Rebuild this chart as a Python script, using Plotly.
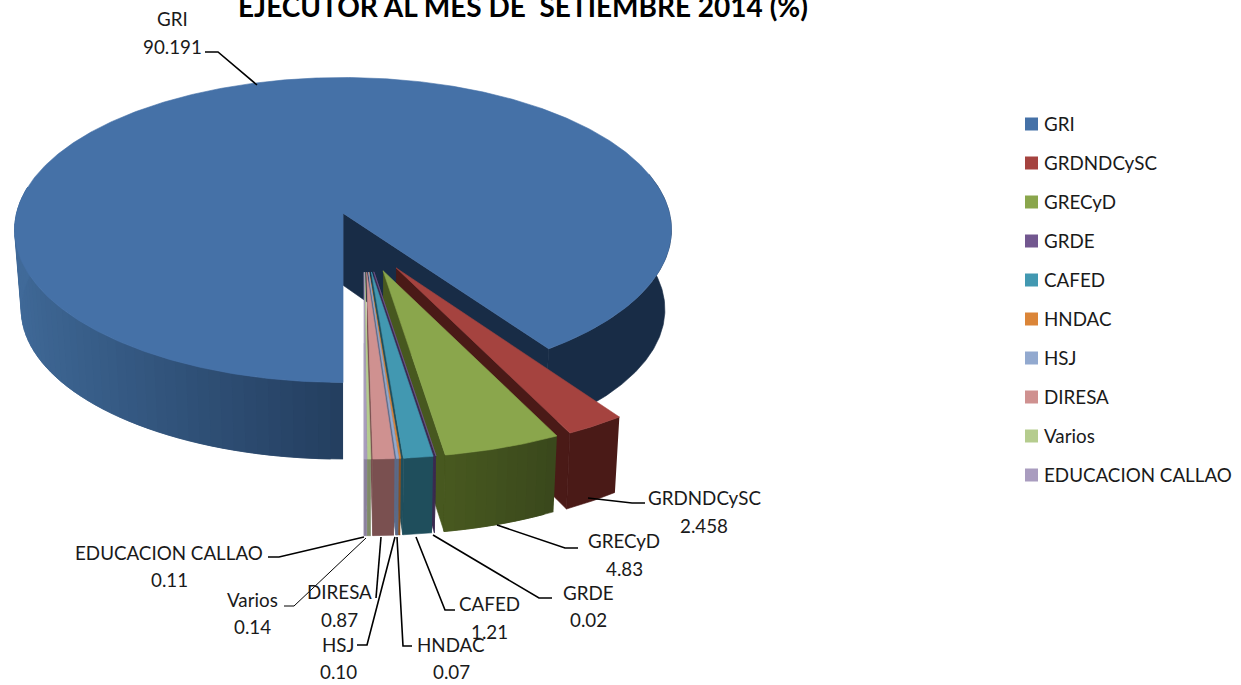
import math
import plotly.graph_objects as go

names = ["GRI", "GRDNDCySC", "GRECyD", "GRDE", "CAFED", "HNDAC", "HSJ", "DIRESA", "Varios", "EDUCACION CALLAO"]
values = [90.191, 2.458, 4.83, 0.02, 1.21, 0.07, 0.10, 0.87, 0.14, 0.11]
value_labels = ["90.191", "2.458", "4.83", "0.02", "1.21", "0.07", "0.10", "0.87", "0.14", "0.11"]
title_text = "EJECUTOR AL MES DE  SETIEMBRE 2014 (%)"

top_colors = ["#4571A7", "#A5433F", "#8AA64C", "#72578F", "#4298B1", "#DB8538", "#92A9CF", "#CF9190", "#B5CC8E", "#A99CBF"]
wall_colors = ["#182C46", "#4A1A17", "#3A481C", "#3A2A50", "#1F4E5C", "#8A5020", "#5A6A88", "#7A5050", "#7F8A68", "#8A809C"]
wall_far_colors = ["#182C46", "#4A1A17", "#47581F", "#3A2A50", "#1F4E5C", "#8A5020", "#5A6A88", "#7A5050", "#7F8A68", "#8A809C"]

RY = 152.5
FONT = "Lato"
TEXT = "#1a1a1a"
LABEL_SIZE = 18.8

total = sum(values)
fig = go.Figure()


def lerp(c1, c2, t):
    a = [int(c1[i:i + 2], 16) for i in (1, 3, 5)]
    b = [int(c2[i:i + 2], 16) for i in (1, 3, 5)]
    return "rgb(%d,%d,%d)" % tuple(round(p + (q - p) * t) for p, q in zip(a, b))


def poly(xs, ys, color, name):
    fig.add_trace(go.Scatter(x=xs, y=ys, mode="lines", fill="toself", fillcolor=color,
                             line=dict(color=color, width=0.6), showlegend=False,
                             hoverinfo="text", text=name))


def slice_geometry(start, end, is_main):
    mid = math.radians((start + end) / 2)
    if is_main:
        cx, pull_x, rx, base, k, dy, rim_dy, rim_y = 360.0, 0.17, 326.5, 1.0, 0.11, 72.0, 80.0, 0.98
    else:
        cx, pull_x, rx, base, k, dy, rim_dy, rim_y = 364.0, 0.19, 322.5, 1.075, 0.14, 71.0, 71.0, 1.03
    ax = cx + pull_x * 329.0 * math.sin(mid)
    ay = 242.0 - 0.198 * RY * math.cos(mid)

    def top(theta):
        t = math.radians(theta)
        s = base * (1 - k * math.cos(t))
        return ax + rx * s * math.sin(t), ay - RY * s * math.cos(t)

    def bottom(theta):
        x, y = top(theta)
        return ax + 0.98 * (x - ax), ay + rim_dy + rim_y * (y - ay)

    return ax, ay, dy, top, bottom


def angles(a, b, step=1.0):
    n = max(2, int(abs(b - a) / step) + 1)
    return [a + (b - a) * i / (n - 1) for i in range(n)]


def strip(bottom, top, a, b, color, name):
    tt = angles(a, b, 0.5)
    poly([top(t)[0] for t in tt] + [bottom(t)[0] for t in reversed(tt)],
         [top(t)[1] for t in tt] + [bottom(t)[1] for t in reversed(tt)], color, name)


def draw_top(ax, ay, top, a, b, color, name):
    tt = angles(a, b, 0.5)
    poly([ax] + [top(t)[0] for t in tt] + [ax], [ay] + [top(t)[1] for t in tt] + [ay], color, name)


# Cumulative angles from the values, clockwise from the bottom of the pie
spans = [v / total * 360 for v in values]
main_start = 180.0
main_end = main_start + spans[0]          # wraps past 360
cursor = main_end - 360

# Main slice first: it sits behind all the others
ax, ay, dy, top, bottom = slice_geometry(main_start, main_end, True)
strip(bottom, top, cursor - 70, cursor, wall_colors[0], names[0])
xe, ye = top(cursor)
xb, yb = bottom(cursor)
poly([ax, xe, xb, ax], [ay, ye, yb, ay + dy], wall_colors[0], names[0])
edges = angles(180, 280, 2.0)
for j in range(len(edges) - 1):
    shade = abs(math.sin(math.radians(edges[j])))
    strip(bottom, top, edges[j], edges[min(j + 2, len(edges) - 1)], lerp("#243F60", "#406A99", shade), names[0])
draw_top(ax, ay, top, main_start, main_end, top_colors[0], names[0])

# Remaining slices, back to front
for i in range(1, len(values)):
    a = cursor
    b = cursor + spans[i]
    cursor = b
    ax, ay, dy, top, bottom = slice_geometry(a, b, False)
    xe, ye = top(b)
    xb, yb = bottom(b)
    poly([ax, xe, xb, ax], [ay, ye, yb, ay + dy], wall_far_colors[i], names[i])
    if wall_colors[i] == wall_far_colors[i]:
        strip(bottom, top, a, b, wall_colors[i], names[i])
    else:
        edges = angles(a, b, 1.5)
        for j in range(len(edges) - 1):
            strip(bottom, top, edges[j], edges[min(j + 2, len(edges) - 1)],
                  lerp(wall_colors[i], wall_far_colors[i], j / max(1, len(edges) - 2)), names[i])
    draw_top(ax, ay, top, a, b, top_colors[i], names[i])

# Leader lines
leader_x = [[205, 218, 257], [645, 632, 588], [578, 565, 497], [552, 539, 433], [455, 445, 416],
            [412, 403, 397], [357, 367, 395], [376, 381], [284, 294, 366], [268, 279, 364]]
leader_y = [[52, 52, 85], [503, 503, 498], [548, 548, 525], [598, 598, 535], [610, 610, 537],
            [646, 646, 537], [645, 645, 537], [598, 537], [606, 606, 538], [557, 557, 537]]
for i, (lx, ly) in enumerate(zip(leader_x, leader_y)):
    fig.add_trace(go.Scatter(x=lx, y=ly, mode="lines", showlegend=False, hoverinfo="skip",
                             line=dict(color="#000000", width=1 if names[i] == "Varios" else 1.6)))

# Data labels: name and value are separate lines of text
label_cx = [172, 704, 624, 588, 489, 451, 338, 339, 252, 169]
label_name_y = [18, 497, 540, 592, 603, 644, 644, 591, 599, 552]
label_value_y = [46, 525, 568, 619, 631, 671, 671, 619, 626, 579]
annotations = []
for i in range(len(names)):
    annotations.append(dict(x=label_cx[i], y=label_name_y[i], text=names[i], showarrow=False,
                            xref="x", yref="y", font=dict(family=FONT, size=LABEL_SIZE, color=TEXT)))
    annotations.append(dict(x=label_cx[i], y=label_value_y[i], text=value_labels[i], showarrow=False,
                            xref="x", yref="y", font=dict(family=FONT, size=LABEL_SIZE, color=TEXT)))
annotations.append(dict(x=523, y=6, text="<b>%s</b>" % title_text, showarrow=False, xref="x", yref="y",
                        font=dict(family=FONT, size=28, color="#000000")))

# Legend column
legend_x = 1031.5
legend_text_x = 1044
legend_y = [124, 163, 202, 241, 280, 319, 358, 397, 436, 475]
for i in range(len(names)):
    fig.add_trace(go.Scatter(x=[legend_x], y=[legend_y[i]], mode="markers", hoverinfo="skip", showlegend=False,
                             marker=dict(symbol="square", size=13, color=top_colors[i])))
    annotations.append(dict(x=legend_text_x, y=legend_y[i], text=names[i], showarrow=False, xanchor="left",
                            xshift=-2, yshift=1, xref="x", yref="y",
                            font=dict(family=FONT, size=LABEL_SIZE, color=TEXT)))

fig.update_layout(
    width=1241, height=685, margin=dict(l=0, r=0, t=0, b=0),
    paper_bgcolor="#ffffff", plot_bgcolor="#ffffff", annotations=annotations, showlegend=False,
    xaxis=dict(range=[0, 1241], visible=False, fixedrange=True),
    yaxis=dict(range=[685, 0], visible=False, fixedrange=True),
)
fig.write_html("out.html", config={"displayModeBar": False}, post_script="document.body.style.margin='0';")
